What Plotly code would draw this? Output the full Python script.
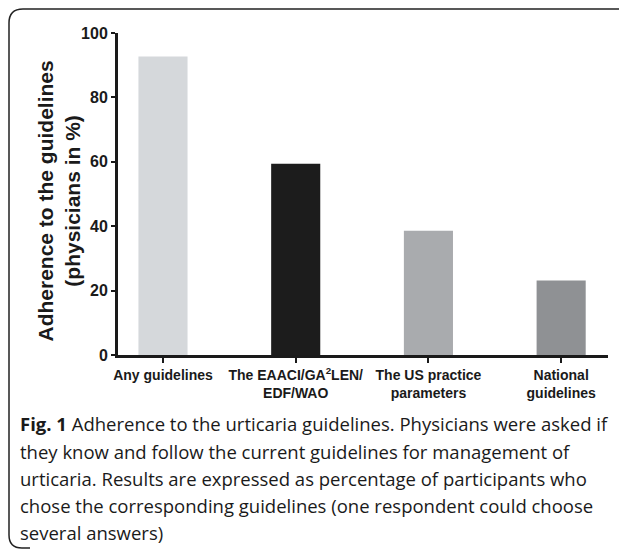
import plotly.graph_objects as go

categories = ["Any guidelines", "The EAACI/GA<sup>2</sup>LEN/<br>EDF/WAO",
              "The US practice<br>parameters", "National<br>guidelines"]
values = [92.7, 59.4, 38.6, 23.1]
bar_colors = ["#d5d8db", "#1c1c1c", "#a9abae", "#8f9194"]
y_ticks = [0, 20, 40, 60, 80, 100]
y_title = "Adherence to the guidelines<br>(physicians in %)"
caption_lines = [
    "<b>Fig. 1</b> Adherence to the urticaria guidelines. Physicians were asked if",
    "they know and follow the current guidelines for management of",
    "urticaria. Results are expressed as percentage of participants who",
    "chose the corresponding guidelines (one respondent could choose",
    "several answers)",
]

# page body has an 8px margin, so the figure is drawn 8px in from the corner
OFF = 8
W, H = 627 - OFF, 553 - OFF
L, R, T, B = 118 - OFF, 608 - OFF, 33 - OFF, 355 - OFF


def px(x):
    return (x - OFF - L) / (R - L)


def py(y):
    return (B - (y - OFF)) / (B - T)


fig = go.Figure()
fig.add_trace(go.Bar(
    x=list(range(len(categories))), y=values, width=0.37,
    marker=dict(color=bar_colors, line=dict(width=0)),
    showlegend=False, hoverinfo="skip",
))

fig.update_layout(
    width=W, height=H,
    margin=dict(l=L, r=W - R, t=T, b=H - B, autoexpand=False),
    paper_bgcolor="white", plot_bgcolor="white",
    xaxis=dict(
        range=[-0.339, 3.353], tickvals=list(range(len(categories))),
        ticktext=["<b>" + c.replace("<br>", "</b><br><b>") + "</b>" for c in categories],
        showline=True, linecolor="#1a1a1a", linewidth=3,
        ticks="outside", ticklen=5, tickwidth=2, tickcolor="#1a1a1a",
        showgrid=False, zeroline=False,
        tickfont=dict(family="Liberation Sans, Arial", size=14, color="#1a1a1a"),
    ),
    yaxis=dict(
        range=[0, 100], tickvals=y_ticks, ticktext=["<b>%d</b>" % v for v in y_ticks],
        showline=True, linecolor="#1a1a1a", linewidth=3,
        ticks="outside", ticklen=4, tickwidth=2, tickcolor="#1a1a1a",
        showgrid=False, zeroline=False,
        tickfont=dict(family="Liberation Sans, Arial", size=16, color="#1a1a1a"),
    ),
)

fig.add_annotation(
    text="<b>" + y_title.replace("<br>", "</b><br><b>") + "</b>",
    xref="paper", yref="paper", x=px(58.5), y=py(201),
    xanchor="center", yanchor="middle", textangle=-90, showarrow=False,
    font=dict(family="Liberation Sans, Arial", size=21, color="#1a1a1a"),
)

for i, line in enumerate(caption_lines):
    fig.add_annotation(
        text=line, xref="paper", yref="paper",
        x=px(18), y=py(424 + 27 * i), xanchor="left", yanchor="middle",
        showarrow=False, align="left",
        font=dict(family="Open Sans, Noto Sans", size=18.5, color="#1a1a1a"),
    )

frame = (f"M {px(625)},{py(9)} L {px(23)},{py(9)} Q {px(9)},{py(9)} {px(9)},{py(23)} "
         f"L {px(9)},{py(535)} Q {px(9)},{py(548)} {px(22)},{py(548)} L {px(30)},{py(548)}")
fig.add_shape(type="path", path=frame, xref="paper", yref="paper",
              line=dict(color="#222222", width=1.5))

fig.write_html("out.html")
